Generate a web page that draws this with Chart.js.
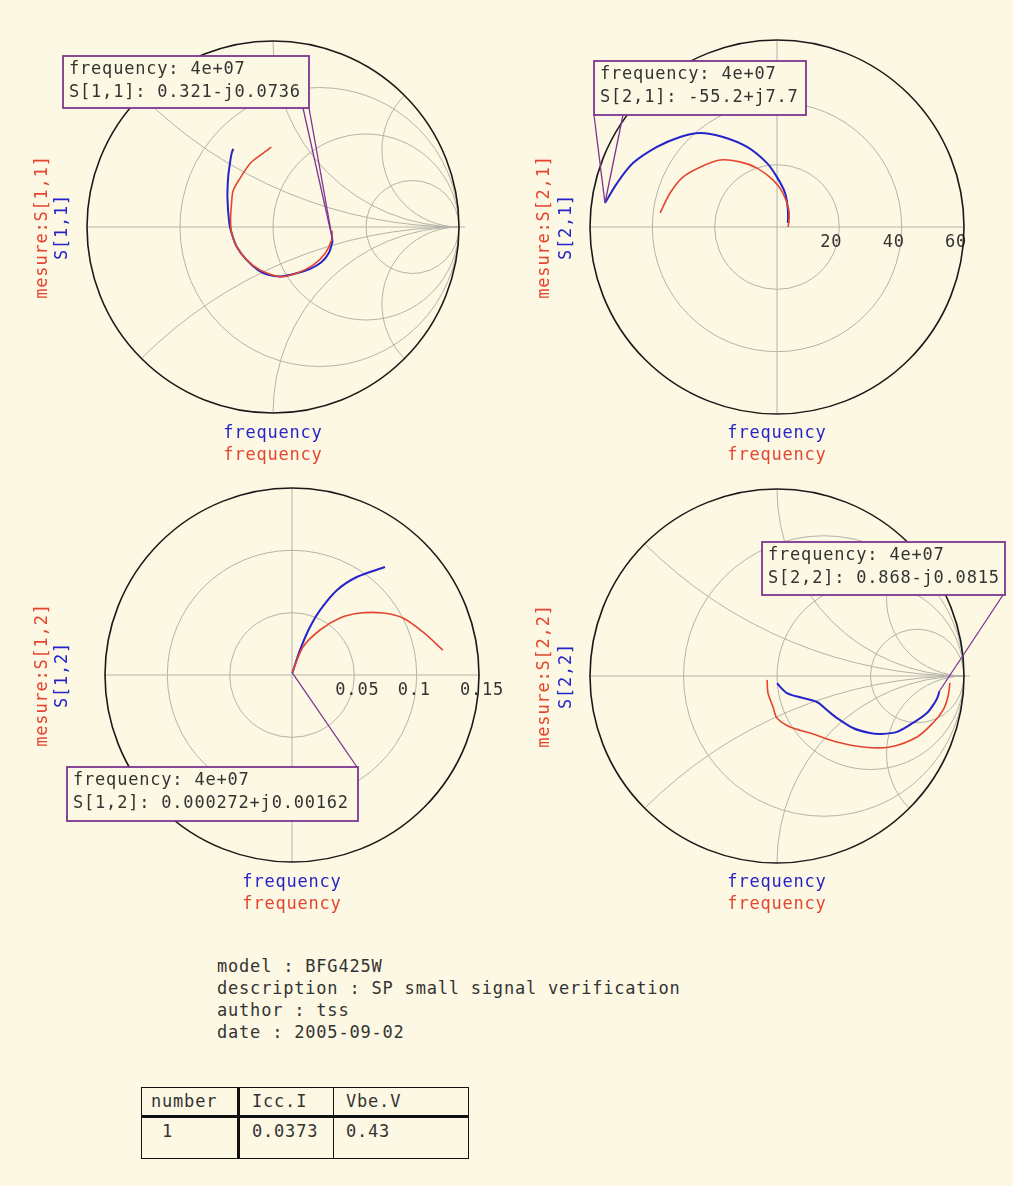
<!DOCTYPE html>
<html>
<head>
<meta charset="utf-8">
<script src="https://cdn.jsdelivr.net/npm/chart.js@4/dist/chart.umd.min.js"></script>
<style>
  html, body { margin: 0; padding: 0; }
  body { width: 1013px; height: 1186px; background: #FDF8E3; position: relative; overflow: hidden;
         font-family: "DejaVu Sans Mono", monospace; font-size: 17px; letter-spacing: 0.8px; color: #333; }
  canvas { position: absolute; }
  #info { position: absolute; left: 217px; top: 955px; line-height: 22px; white-space: pre; }
  #params { position: absolute; left: 141px; top: 1087px; border-collapse: collapse; border: 1.5px solid #111; }
  #params td { border: 1px solid #111; padding: 3px 0 0 12px; vertical-align: top; white-space: pre; }
  #params tr:first-child td { border-bottom: 3px solid #111; height: 24px; }
  #params tr:last-child td { height: 37px; }
  #params td:first-child { border-right: 3px solid #111; padding-left: 9px; }
</style>
</head>
<body>
<canvas id="s11" width="506" height="470" style="left:0;top:0"></canvas>
<canvas id="s21" width="507" height="470" style="left:506px;top:0"></canvas>
<canvas id="s12" width="506" height="470" style="left:0;top:470px"></canvas>
<canvas id="s22" width="507" height="470" style="left:506px;top:470px"></canvas>
<div id="info"></div>
<table id="params"></table>

<script>
const s11Model = [[0.321,-0.0736],[0.30,-0.14],[0.26,-0.19],[0.20,-0.225],[0.127,-0.249],[0.04,-0.266],[-0.03,-0.255],[-0.08,-0.232],[-0.142,-0.177],[-0.195,-0.106],[-0.222,-0.034],[-0.235,0.02],[-0.245,0.16],[-0.241,0.268],[-0.232,0.339],[-0.223,0.393],[-0.214,0.42]];
const s11Meas = [[0.318,-0.02],[0.315,-0.07],[0.28,-0.142],[0.217,-0.204],[0.127,-0.249],[0.038,-0.267],[-0.07,-0.231],[-0.142,-0.177],[-0.195,-0.106],[-0.222,-0.034],[-0.228,0.04],[-0.223,0.125],[-0.214,0.196],[-0.179,0.259],[-0.125,0.339],[-0.071,0.384],[-0.009,0.429]];

const s21Model = [[-55.2,7.7],[-51.3,14.1],[-46.2,20.5],[-38.5,25.7],[-31.1,28.9],[-24.7,30.2],[-17.3,28.9],[-9.6,25.7],[-3.2,20.5],[0,16],[2.6,10.9],[3.5,5.5],[3.5,1.3]];
const s21Meas = [[-37.5,4.5],[-34.3,10.9],[-30.2,16],[-24.7,19.2],[-18.3,21.5],[-11.9,20.9],[-6.4,18.9],[-1.3,15.1],[1.9,10.9],[3.8,5.5],[3.8,1.3],[3.5,0]];

const s12Model = [[0.000272,0.00162],[0.0064,0.02],[0.0144,0.0385],[0.0225,0.052],[0.036,0.068],[0.052,0.0786],[0.0746,0.0866]];
const s12Meas = [[0.0003,0.002],[0.0088,0.0225],[0.0225,0.0361],[0.0385,0.0457],[0.0545,0.0497],[0.073,0.0497],[0.089,0.0457],[0.105,0.0345],[0.121,0.02]];

const s22Model = [[0.868,-0.0815],[0.86,-0.11],[0.845,-0.14],[0.802,-0.198],[0.727,-0.251],[0.642,-0.299],[0.56,-0.31],[0.497,-0.305],[0.406,-0.278],[0.321,-0.225],[0.267,-0.182],[0.214,-0.139],[0.139,-0.118],[0.053,-0.091],[0,-0.039]];
const s22Meas = [[0.925,-0.037],[0.914,-0.112],[0.888,-0.182],[0.834,-0.251],[0.749,-0.326],[0.604,-0.38],[0.46,-0.38],[0.321,-0.353],[0.176,-0.305],[0.07,-0.273],[0,-0.225],[-0.021,-0.166],[-0.048,-0.091],[-0.053,-0.021]];

// grid values
const smithResistance = [1/3, 1, 3];
const smithReactance = [0.414, 1, 2.414];
const s21Rings = [20, 40, 60];
const s21RingLabels = ['20', '40', '60'];
const s12Rings = [0.05, 0.1, 0.15];
const s12RingLabels = ['0.05', '0.1', '0.15'];

// marker texts
const markerFreq = '4e+07';
const s11Marker = '0.321-j0.0736';
const s21Marker = '-55.2+j7.7';
const s12Marker = '0.000272+j0.00162';
const s22Marker = '0.868-j0.0815';

const infoLines = ['model : BFG425W', 'description : SP small signal verification', 'author : tss', 'date : 2005-09-02'];
const tableColumns = ['number', 'Icc.I', 'Vbe.V'];
const tableRow = [' 1', '0.0373', '0.43'];

const BG = '#FDF8E3';
const BLUE = '#2424C8';
const RED = '#E4452F';
const GRID = '#B4B2AA';
const PURPLE = '#7E3590';
const TEXT = '#333333';
const FONT = '17px "DejaVu Sans Mono", monospace';

function setText(ctx) {
    ctx.font = FONT;
    if ('letterSpacing' in ctx) ctx.letterSpacing = '0.8px';
}

// draws smith or polar background grid from the scales
const rfGridPlugin = {
    id: 'rfGrid',
    beforeDatasetsDraw(chart, args, opts) {
        const ctx = chart.ctx;
        const xs = chart.scales.x, ys = chart.scales.y;
        const X = v => xs.getPixelForValue(v);
        const Y = v => ys.getPixelForValue(v);
        const cx = X(0), cy = Y(0);
        const outer = opts.kind === 'smith' ? 1 : opts.rings[opts.rings.length - 1];
        const R = X(outer) - cx;
        const u = X(1) - cx;

        ctx.save();
        ctx.strokeStyle = GRID;
        ctx.lineWidth = 1;
        if (opts.kind === 'smith') {
            ctx.save();
            ctx.beginPath();
            ctx.arc(cx, cy, R, 0, Math.PI * 2);
            ctx.clip();
            opts.resistance.forEach(r => {
                ctx.beginPath();
                ctx.arc(X(r / (1 + r)), cy, u / (1 + r), 0, Math.PI * 2);
                ctx.stroke();
            });
            opts.reactance.forEach(x => {
                [1, -1].forEach(s => {
                    ctx.beginPath();
                    ctx.arc(X(1), Y(s / x), u / x, 0, Math.PI * 2);
                    ctx.stroke();
                });
            });
            ctx.restore();
            ctx.beginPath();
            ctx.moveTo(X(-1), cy);
            ctx.lineTo(X(1) + 6, cy);
            ctx.stroke();
        } else {
            opts.rings.slice(0, -1).forEach(v => {
                ctx.beginPath();
                ctx.arc(cx, cy, X(v) - cx, 0, Math.PI * 2);
                ctx.stroke();
            });
            ctx.beginPath();
            ctx.moveTo(cx - R, cy); ctx.lineTo(cx + R, cy);
            ctx.moveTo(cx, cy - R); ctx.lineTo(cx, cy + R);
            ctx.stroke();
            setText(ctx);
            ctx.fillStyle = TEXT;
            ctx.textBaseline = 'middle';
            ctx.textAlign = 'left';
            opts.rings.forEach((v, i) => {
                ctx.fillText(opts.labels[i], X(v) - 19, cy + 16);
            });
        }
        ctx.strokeStyle = '#1a1a1a';
        ctx.lineWidth = 1.6;
        ctx.beginPath();
        ctx.arc(cx, cy, R, 0, Math.PI * 2);
        ctx.stroke();
        ctx.restore();
    }
};

// marker callout box + axis captions
const calloutPlugin = {
    id: 'callout',
    afterDatasetsDraw(chart, args, opts) {
        const ctx = chart.ctx;
        const first = chart.data.datasets[1].data[0];
        const px = chart.scales.x.getPixelForValue(first.x);
        const py = chart.scales.y.getPixelForValue(first.y);
        const ox = opts.offset[0], oy = opts.offset[1];
        const b = opts.box;

        ctx.save();
        ctx.strokeStyle = PURPLE;
        ctx.lineWidth = 1.3;
        opts.wedge.forEach(w => {
            ctx.beginPath();
            ctx.moveTo(w[0] - ox, w[1] - oy);
            ctx.lineTo(px, py);
            ctx.stroke();
        });
        ctx.fillStyle = BG;
        ctx.fillRect(b.x - ox, b.y - oy, b.w, b.h);
        ctx.lineWidth = 1.8;
        ctx.strokeRect(b.x - ox, b.y - oy, b.w, b.h);

        setText(ctx);
        ctx.fillStyle = TEXT;
        ctx.textBaseline = 'middle';
        ctx.textAlign = 'left';
        ctx.fillText('frequency: ' + markerFreq, b.x - ox + 6, b.y - oy + 14);
        ctx.fillText(opts.name + ': ' + opts.value, b.x - ox + 6, b.y - oy + 37);

        // rotated y captions
        const cy = chart.scales.y.getPixelForValue(0);
        ctx.textAlign = 'center';
        ctx.save();
        ctx.translate(opts.titleX[0] - ox, cy);
        ctx.rotate(-Math.PI / 2);
        ctx.fillStyle = RED;
        ctx.fillText('mesure:' + opts.name, 0, 0);
        ctx.restore();
        ctx.save();
        ctx.translate(opts.titleX[1] - ox, cy);
        ctx.rotate(-Math.PI / 2);
        ctx.fillStyle = BLUE;
        ctx.fillText(opts.name, 0, 0);
        ctx.restore();

        // x captions
        const cx = chart.scales.x.getPixelForValue(0);
        ctx.fillStyle = BLUE;
        ctx.fillText('frequency', cx, opts.freqY[0] - oy);
        ctx.fillStyle = RED;
        ctx.fillText('frequency', cx, opts.freqY[1] - oy);
        ctx.restore();
    }
};

const panels = [
    { id: 's11', left: 0, top: 0, w: 506, h: 470, cx: 273, cy: 227, R: 186, kind: 'smith', range: 1,
      model: s11Model, meas: s11Meas, name: 'S[1,1]', value: s11Marker,
      box: { x: 63, y: 56, w: 246, h: 52 }, wedge: [[303, 108], [309, 108]], titleX: [43, 63], freqY: [434, 456] },
    { id: 's21', left: 506, top: 0, w: 507, h: 470, cx: 777, cy: 227, R: 187, kind: 'polar', range: 60,
      rings: s21Rings, labels: s21RingLabels,
      model: s21Model, meas: s21Meas, name: 'S[2,1]', value: s21Marker,
      box: { x: 594, y: 61, w: 212, h: 54 }, wedge: [[594, 115], [623, 115]], titleX: [545, 567], freqY: [434, 456] },
    { id: 's12', left: 0, top: 470, w: 506, h: 470, cx: 292, cy: 675, R: 187, kind: 'polar', range: 0.15,
      rings: s12Rings, labels: s12RingLabels,
      model: s12Model, meas: s12Meas, name: 'S[1,2]', value: s12Marker,
      box: { x: 67, y: 767, w: 291, h: 54 }, wedge: [[357, 767]], titleX: [43, 63], freqY: [883, 905] },
    { id: 's22', left: 506, top: 470, w: 507, h: 470, cx: 777, cy: 676, R: 187, kind: 'smith', range: 1,
      model: s22Model, meas: s22Meas, name: 'S[2,2]', value: s22Marker,
      box: { x: 762, y: 542, w: 243, h: 53 }, wedge: [[1003, 595]], titleX: [545, 567], freqY: [883, 905] }
];

function toXY(arr) {
    return arr.map(p => ({ x: p[0], y: p[1] }));
}

function createPanel(p) {
    const canvas = document.getElementById(p.id);
    const padding = {
        left: p.cx - p.R - p.left,
        top: p.cy - p.R - p.top,
        right: p.left + p.w - (p.cx + p.R),
        bottom: p.top + p.h - (p.cy + p.R)
    };
    new Chart(canvas, {
        type: 'scatter',
        data: {
            datasets: [
                { label: 'mesure:' + p.name, data: toXY(p.meas), showLine: true, borderColor: RED,
                  borderWidth: 1.6, pointRadius: 0, tension: 0.3 },
                { label: p.name, data: toXY(p.model), showLine: true, borderColor: BLUE,
                  borderWidth: 2, pointRadius: 0, tension: 0.3 }
            ]
        },
        options: {
            responsive: false,
            animation: false,
            devicePixelRatio: 1,
            layout: { padding: padding },
            scales: {
                x: { type: 'linear', min: -p.range, max: p.range, display: false },
                y: { type: 'linear', min: -p.range, max: p.range, display: false }
            },
            plugins: {
                legend: { display: false },
                tooltip: { enabled: false },
                rfGrid: { kind: p.kind, resistance: smithResistance, reactance: smithReactance,
                          rings: p.rings, labels: p.labels },
                callout: { offset: [p.left, p.top], box: p.box, wedge: p.wedge, name: p.name,
                           value: p.value, titleX: p.titleX, freqY: p.freqY }
            }
        },
        plugins: [rfGridPlugin, calloutPlugin]
    });
}

function buildInfo() {
    document.getElementById('info').textContent = infoLines.join('\n');
    const table = document.getElementById('params');
    const widths = [95, 93, 134];
    [tableColumns, tableRow].forEach(row => {
        const tr = document.createElement('tr');
        row.forEach((t, i) => {
            const td = document.createElement('td');
            td.textContent = t;
            td.style.width = (widths[i] - (i === 0 ? 9 : 12)) + 'px';
            tr.appendChild(td);
        });
        table.appendChild(tr);
    });
}

panels.forEach(createPanel);
buildInfo();
</script>
</body>
</html>
